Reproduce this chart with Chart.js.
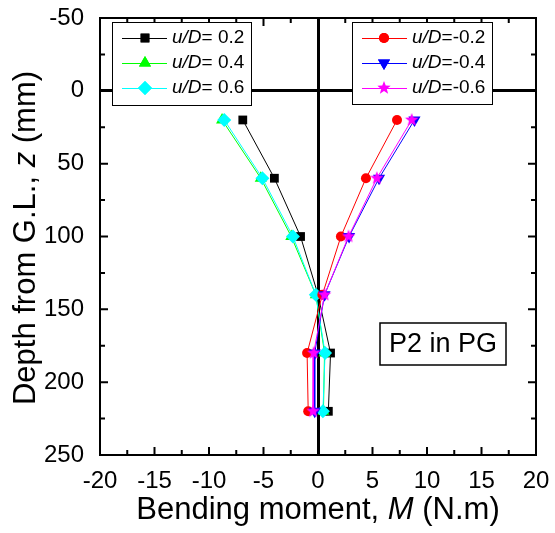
<!DOCTYPE html>
<html>
<head>
<meta charset="utf-8">
<script src="https://cdn.jsdelivr.net/npm/chart.js@4/dist/chart.umd.min.js"></script>
<style>
  html, body { margin: 0; padding: 0; background: #fff; }
  #wrap { width: 555px; height: 533px; }
</style>
</head>
<body>
<div id="wrap"><canvas id="myChart" width="555" height="533"></canvas></div>
<script>
// Profondeurs de mesure (mm) et moments fléchissants (N.m) pour chaque u/D
const depth = [20, 60, 100, 140, 180, 220];
const mPos02 = [-6.9, -4.0, -1.6, 0.0, 1.15, 0.95];
const mPos04 = [-8.8, -5.25, -2.45, -0.2, 0.6, 0.5];
const mPos06 = [-8.6, -5.1, -2.3, -0.2, 0.65, 0.45];
const mNeg02 = [7.25, 4.4, 2.1, 0.4, -1.0, -0.9];
const mNeg04 = [8.85, 5.6, 2.85, 0.6, -0.3, -0.3];
const mNeg06 = [8.6, 5.4, 2.8, 0.6, -0.4, -0.45];

const xTicks = [-20, -15, -10, -5, 0, 5, 10, 15, 20];
const yTicks = [-50, 0, 50, 100, 150, 200, 250];

const FONT = 'Liberation Sans, Arial, sans-serif';

// étoile pleine magenta pour u/D=-0.6
function makeStar(color, r) {
    const c = document.createElement('canvas');
    const s = Math.ceil(r * 2 + 2);
    c.width = s; c.height = s;
    const g = c.getContext('2d');
    g.beginPath();
    for (let i = 0; i < 10; i++) {
        const rr = i % 2 === 0 ? r : r * 0.42;
        const a = -Math.PI / 2 + i * Math.PI / 5;
        g.lineTo(s / 2 + rr * Math.cos(a), s / 2 + rr * Math.sin(a));
    }
    g.closePath();
    g.fillStyle = color;
    g.fill();
    return c;
}
const starImg = makeStar('#ff00ff', 7);

function serie(label, values, color, style, radius, rotation, order) {
    return {
        label: label,
        data: values.map((v, i) => ({ x: v, y: depth[i] })),
        borderColor: color,
        backgroundColor: color,
        borderWidth: 1,
        pointStyle: style,
        pointRadius: radius,
        pointRotation: rotation,
        pointBorderWidth: 0,
        showLine: true,
        order: order
    };
}

const datasets = [
    serie('0.2', mPos02, '#000000', 'rect', 6.2, 0, 6),
    serie('0.4', mPos04, '#00ff00', 'triangle', 7, 0, 5),
    serie('0.6', mPos06, '#00ffff', 'rectRot', 7, 0, 4),
    serie('-0.2', mNeg02, '#ff0000', 'circle', 5, 0, 3),
    serie('-0.4', mNeg04, '#0000ff', 'triangle', 7, 180, 2),
    serie('-0.6', mNeg06, '#ff00ff', starImg, 7, 0, 1)
];

function drawMarker(ctx, ds, x, y) {
    if (ds.pointStyle instanceof HTMLCanvasElement) {
        ctx.drawImage(ds.pointStyle, x - ds.pointStyle.width / 2, y - ds.pointStyle.height / 2);
        return;
    }
    ctx.fillStyle = ds.backgroundColor;
    Chart.helpers.drawPoint(ctx, {
        pointStyle: ds.pointStyle,
        rotation: ds.pointRotation,
        radius: ds.pointRadius,
        borderWidth: 0
    }, x, y);
    ctx.fillStyle = ds.backgroundColor;
    ctx.fill();
}

// Cadre, graduations intérieures, légendes et annotations
const decorPlugin = {
    id: 'decor',
    afterDatasetsDraw(chart) {
        const ctx = chart.ctx;
        const xs = chart.scales.x, ys = chart.scales.y;
        const a = chart.chartArea;
        ctx.save();
        ctx.strokeStyle = '#000';
        ctx.lineWidth = 2;
        ctx.strokeRect(a.left, a.top, a.right - a.left, a.bottom - a.top);

        // graduations majeures et mineures
        for (let v = -20; v <= 20; v += 2.5) {
            const px = xs.getPixelForValue(v);
            const len = (v % 5 === 0) ? 8 : 5;
            ctx.beginPath();
            ctx.moveTo(px, a.bottom); ctx.lineTo(px, a.bottom - len);
            ctx.moveTo(px, a.top); ctx.lineTo(px, a.top + len);
            ctx.stroke();
        }
        for (let v = -50; v <= 250; v += 25) {
            const py = ys.getPixelForValue(v);
            const len = (v % 50 === 0) ? 8 : 5;
            ctx.beginPath();
            ctx.moveTo(a.left, py); ctx.lineTo(a.left + len, py);
            ctx.moveTo(a.right, py); ctx.lineTo(a.right - len, py);
            ctx.stroke();
        }

        // légendes
        const boxes = [
            { x: 112, y: 22, w: 139, h: 83, lx0: 122, lx1: 167, mx: 145, tx: 172, sets: [0, 1, 2] },
            { x: 352, y: 22, w: 140, h: 82, lx0: 362, lx1: 407, mx: 384, tx: 412, sets: [3, 4, 5] }
        ];
        boxes.forEach(b => {
            ctx.fillStyle = '#fff';
            ctx.fillRect(b.x, b.y, b.w, b.h);
            ctx.strokeStyle = '#000';
            ctx.lineWidth = 1;
            ctx.strokeRect(b.x + 0.5, b.y + 0.5, b.w, b.h);
            b.sets.forEach((k, i) => {
                const ds = chart.data.datasets[k];
                const ry = 38 + i * 25;
                ctx.strokeStyle = ds.borderColor;
                ctx.lineWidth = 1;
                ctx.beginPath();
                ctx.moveTo(b.lx0, ry + 0.5); ctx.lineTo(b.lx1, ry + 0.5);
                ctx.stroke();
                drawMarker(ctx, ds, b.mx, ry);
                ctx.fillStyle = '#000';
                ctx.textBaseline = 'middle';
                ctx.textAlign = 'left';
                ctx.font = 'italic 19px ' + FONT;
                ctx.fillText('u/D', b.tx, ry);
                const w = ctx.measureText('u/D').width;
                ctx.font = '19px ' + FONT;
                const num = ds.label.startsWith('-') ? ds.label : ' ' + ds.label;
                ctx.fillText('=' + num, b.tx + w, ry);
            });
        });

        // annotation du cas
        ctx.fillStyle = '#fff';
        ctx.fillRect(380, 323, 126, 42);
        ctx.strokeStyle = '#000';
        ctx.lineWidth = 1.5;
        ctx.strokeRect(380, 323, 126, 42);
        ctx.fillStyle = '#000';
        ctx.font = '27px ' + FONT;
        ctx.textAlign = 'center';
        ctx.textBaseline = 'middle';
        ctx.fillText('P2 in PG', 443, 345);

        // titres des axes (avec variables en italique)
        function mixed(parts, cx, cy) {
            let total = 0;
            parts.forEach(p => { ctx.font = (p[1] ? 'italic ' : '') + '31px ' + FONT; total += ctx.measureText(p[0]).width; });
            let x = cx - total / 2;
            ctx.textAlign = 'left';
            parts.forEach(p => {
                ctx.font = (p[1] ? 'italic ' : '') + '31px ' + FONT;
                ctx.fillText(p[0], x, cy);
                x += ctx.measureText(p[0]).width;
            });
        }
        ctx.textBaseline = 'alphabetic';
        mixed([['Bending moment, ', false], ['M', true], [' (N.m)', false]], 318, 519);
        ctx.translate(35, 238);
        ctx.rotate(-Math.PI / 2);
        mixed([['Depth from G.L., ', false], ['z', true], [' (mm)', false]], 0, 0);
        ctx.restore();
    }
};

const ctx = document.getElementById('myChart').getContext('2d');
new Chart(ctx, {
    type: 'scatter',
    data: { datasets: datasets },
    options: {
        responsive: false,
        animation: false,
        layout: { padding: { top: 18, right: 19, left: 0, bottom: 0 } },
        plugins: {
            legend: { display: false },
            tooltip: { enabled: false }
        },
        scales: {
            x: {
                type: 'linear',
                min: -20,
                max: 20,
                afterFit: s => { s.height = 78; s.paddingLeft = 0; s.paddingRight = 0; },
                afterBuildTicks: s => { s.ticks = xTicks.map(v => ({ value: v })); },
                ticks: { color: '#000', padding: 12, font: { family: FONT, size: 24 }, maxRotation: 0 },
                grid: {
                    drawTicks: false,
                    color: c => c.tick && c.tick.value === 0 ? '#000' : 'rgba(0,0,0,0)',
                    lineWidth: 3
                },
                border: { display: false }
            },
            y: {
                type: 'linear',
                reverse: true,
                min: -50,
                max: 250,
                afterFit: s => { s.width = 100; s.paddingTop = 0; s.paddingBottom = 0; },
                afterBuildTicks: s => { s.ticks = yTicks.map(v => ({ value: v })); },
                ticks: { color: '#000', padding: 16, font: { family: FONT, size: 24 } },
                grid: {
                    drawTicks: false,
                    color: c => c.tick && c.tick.value === 0 ? '#000' : 'rgba(0,0,0,0)',
                    lineWidth: 3
                },
                border: { display: false }
            }
        }
    },
    plugins: [decorPlugin]
});
</script>
</body>
</html>
